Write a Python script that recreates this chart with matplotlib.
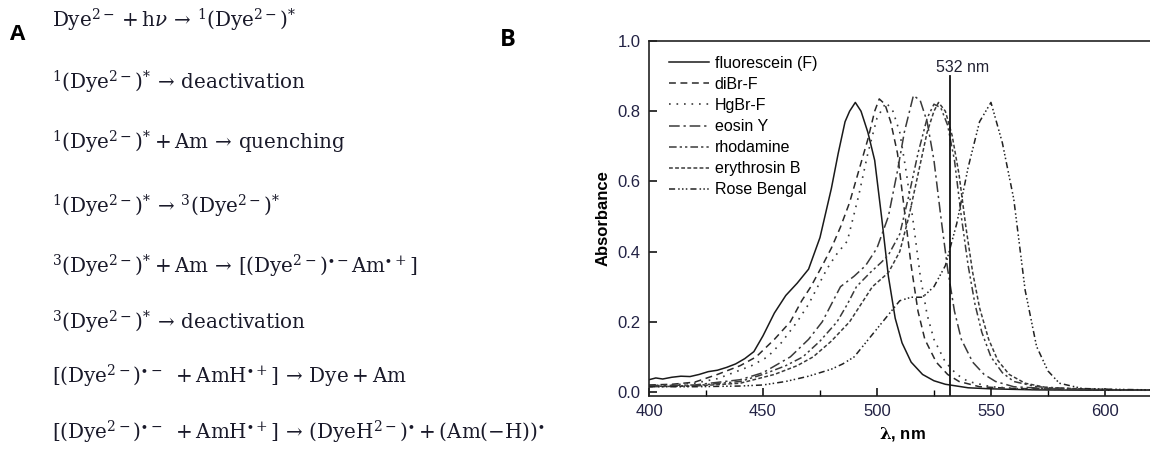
import matplotlib
matplotlib.use("Agg")
import matplotlib.pyplot as plt
from matplotlib.ticker import MultipleLocator

plt.rcParams['font.family'] = ['Liberation Sans', 'DejaVu Sans']
plt.rcParams['mathtext.fontset'] = 'dejavuserif'

# ---------------- data ----------------
fluor_wl = [400, 403, 406, 410, 414, 418, 422, 426, 430, 434, 438, 442, 446, 450, 455, 460, 465, 470,
            475, 480, 483, 486, 488, 490.5, 493, 496, 499, 502, 505, 508, 511, 515, 520, 525, 530, 540,
            550, 570, 600, 620]
fluor_A = [0.035, 0.04, 0.037, 0.042, 0.045, 0.044, 0.05, 0.058, 0.062, 0.07, 0.08, 0.095, 0.115, 0.16,
           0.225, 0.275, 0.31, 0.35, 0.44, 0.58, 0.68, 0.77, 0.80, 0.825, 0.80, 0.74, 0.66, 0.50, 0.33,
           0.21, 0.14, 0.085, 0.05, 0.032, 0.022, 0.012, 0.009, 0.006, 0.005, 0.005]

dibr_wl = [400, 410, 420, 430, 440, 447, 455, 462, 467, 471, 476, 480, 484, 488, 492, 496, 499, 501,
           503.5, 506, 509, 512, 515, 518, 521, 526, 531, 536, 545, 560, 620]
dibr_A = [0.02, 0.022, 0.028, 0.05, 0.075, 0.1, 0.15, 0.2, 0.26, 0.3, 0.36, 0.41, 0.47, 0.54, 0.63,
          0.72, 0.80, 0.835, 0.82, 0.77, 0.68, 0.52, 0.36, 0.23, 0.15, 0.085, 0.05, 0.03, 0.015, 0.01, 0.005]

hgbr_wl = [400, 410, 420, 430, 435, 445, 452, 458, 465, 470, 474, 478, 482, 487, 492, 496, 500, 504,
           507, 510, 513, 516, 519, 522, 525, 530, 535, 540, 550, 565, 620]
hgbr_A = [0.018, 0.02, 0.025, 0.038, 0.05, 0.075, 0.1, 0.14, 0.2, 0.25, 0.3, 0.35, 0.39, 0.43, 0.56,
          0.68, 0.78, 0.825, 0.80, 0.74, 0.62, 0.48, 0.33, 0.22, 0.15, 0.085, 0.05, 0.03, 0.015, 0.008, 0.005]

eosin_wl = [400, 420, 440, 450, 462, 470, 476, 484, 490, 495, 500, 505, 509, 512, 516, 519, 522, 525,
            528, 531, 534, 537, 542, 547, 552, 560, 580, 620]
eosin_A = [0.018, 0.02, 0.035, 0.055, 0.1, 0.15, 0.2, 0.3, 0.33, 0.36, 0.41, 0.5, 0.63, 0.74, 0.845,
           0.83, 0.77, 0.66, 0.5, 0.35, 0.23, 0.15, 0.085, 0.05, 0.03, 0.015, 0.008, 0.005]

rhod_wl = [400, 420, 440, 450, 460, 467.5, 475, 482.5, 487, 491, 497, 502, 505, 510, 514, 518, 522, 525,
           528, 531, 534, 537, 540, 543, 546, 550, 555, 560, 570, 590, 620]
rhod_A = [0.016, 0.018, 0.03, 0.05, 0.075, 0.1, 0.145, 0.2, 0.25, 0.3, 0.34, 0.37, 0.39, 0.45, 0.56,
          0.68, 0.78, 0.82, 0.81, 0.76, 0.66, 0.5, 0.36, 0.25, 0.17, 0.1, 0.055, 0.03, 0.015, 0.008, 0.005]

eryth_wl = [400, 420, 440, 455, 465, 472, 480, 488, 493, 498, 505, 510, 514, 518, 522, 525, 527, 530,
            533, 536, 539, 542, 545, 549, 553, 558, 565, 575, 600, 620]
eryth_A = [0.015, 0.017, 0.025, 0.05, 0.075, 0.1, 0.145, 0.2, 0.25, 0.3, 0.34, 0.4, 0.5, 0.62, 0.74,
           0.8, 0.825, 0.8, 0.73, 0.62, 0.47, 0.34, 0.24, 0.15, 0.09, 0.05, 0.025, 0.012, 0.007, 0.005]

rb_wl = [400, 420, 440, 450, 460, 470, 475, 480, 485, 490, 495, 500, 505, 510, 515, 520, 525, 530, 535,
         540, 545, 550, 555, 560, 565, 570, 575, 580, 590, 600, 620]
rb_A = [0.015, 0.015, 0.017, 0.02, 0.03, 0.045, 0.055, 0.065, 0.08, 0.1, 0.14, 0.18, 0.22, 0.26, 0.27,
        0.27, 0.3, 0.36, 0.48, 0.64, 0.77, 0.825, 0.71, 0.55, 0.29, 0.13, 0.06, 0.025, 0.01, 0.008, 0.006]

series_names = ['fluorescein (F)', 'diBr-F', 'HgBr-F', 'eosin Y', 'rhodamine', 'erythrosin B', 'Rose Bengal']
laser_nm = 532
xticks = [400, 450, 500, 550, 600]
yticks = [0.0, 0.2, 0.4, 0.6, 0.8, 1.0]

equations = [
    r'$\mathrm{Dye}^{2-}+\mathrm{h}\nu\,\rightarrow\,{}^{1}(\mathrm{Dye}^{2-})^{*}$',
    r'${}^{1}(\mathrm{Dye}^{2-})^{*}\,\rightarrow\,\mathrm{deactivation}$',
    r'${}^{1}(\mathrm{Dye}^{2-})^{*}+\mathrm{Am}\,\rightarrow\,\mathrm{quenching}$',
    r'${}^{1}(\mathrm{Dye}^{2-})^{*}\,\rightarrow\,{}^{3}(\mathrm{Dye}^{2-})^{*}$',
    r'${}^{3}(\mathrm{Dye}^{2-})^{*}+\mathrm{Am}\,\rightarrow\,[(\mathrm{Dye}^{2-})^{\bullet-}\mathrm{Am}^{\bullet+}]$',
    r'${}^{3}(\mathrm{Dye}^{2-})^{*}\,\rightarrow\,\mathrm{deactivation}$',
    r'$[(\mathrm{Dye}^{2-})^{\bullet-}\ +\mathrm{AmH}^{\bullet+}]\,\rightarrow\,\mathrm{Dye}+\mathrm{Am}$',
    r'$[(\mathrm{Dye}^{2-})^{\bullet-}\ +\mathrm{AmH}^{\bullet+}]\,\rightarrow\,(\mathrm{DyeH}^{2-})^{\bullet}+(\mathrm{Am}(-\mathrm{H}))^{\bullet}$',
]
eq_baselines_px = [27, 90, 150, 213, 273, 330, 383, 440]

# ---------------- figure ----------------
W, H = 1150, 455
fig = plt.figure(figsize=(W / 100, H / 100), dpi=100)

# panel A: reaction scheme
fig.text(10 / W, 1 - 35 / H, 'A', fontsize=16, fontweight='bold', va='center', ha='left',
         family=['Open Sans', 'DejaVu Sans'])
for eq, b in zip(equations, eq_baselines_px):
    fig.text(52 / W, 1 - b / H, eq, fontsize=14.3, va='baseline', ha='left', color='#1a1a2a')

# panel B label
fig.text(500 / W, 1 - 40 / H, 'B', fontsize=17, fontweight='bold', va='center', ha='left',
         family=['Open Sans', 'DejaVu Sans'])

ax = fig.add_axes([649 / W, 1 - 396 / H, 507 / W, 355 / H])

styles = [
    dict(ls='-', color='#1a1a1a', lw=1.1),
    dict(ls=(0, (4.5, 3)), color='#2a2a2a', lw=1.1),
    dict(ls=(0, (1, 3.5)), color='#3a3a3a', lw=1.2),
    dict(ls=(0, (7, 2.5, 1.5, 2.5)), color='#3a3a3a', lw=1.1),
    dict(ls=(0, (5, 2, 1.5, 2, 1.5, 2)), color='#3a3a3a', lw=1.1),
    dict(ls=(0, (2.5, 1.5)), color='#3a3a3a', lw=1.1),
    dict(ls=(0, (4, 2, 1, 1.5, 1, 1.5, 1, 2)), color='#222222', lw=1.1),
]
data = [(fluor_wl, fluor_A), (dibr_wl, dibr_A), (hgbr_wl, hgbr_A), (eosin_wl, eosin_A),
        (rhod_wl, rhod_A), (eryth_wl, eryth_A), (rb_wl, rb_A)]
for (x, y), name, st in zip(data, series_names, styles):
    ax.plot(x, y, label=name, **st)

ax.axvline(laser_nm, ymin=0, ymax=(0.90 + 0.0114) / 1.0114, color='#111111', lw=1.3)
ax.text(laser_nm + 5.5, 0.925, f'{laser_nm} nm', fontsize=11.5, ha='center', va='center', color='#222233')

ax.set_xlim(400, 622.4)
ax.set_ylim(-0.0114, 1.0)
ax.set_xticks(xticks)
ax.set_yticks(yticks)
ax.set_yticklabels([f'{v:.1f}' for v in yticks])
ax.xaxis.set_minor_locator(MultipleLocator(25))
ax.tick_params(which='major', direction='in', length=6, width=1.1, labelsize=12, labelcolor='#222244', pad=6)
ax.tick_params(which='minor', direction='in', length=4, width=1.0)
ax.tick_params(axis='y', which='minor', left=False)
for s in ax.spines.values():
    s.set_linewidth(1.2)
    s.set_color('#222222')

ax.set_xlabel(r'$\mathbf{\lambda}$, nm', fontsize=12, fontweight='bold', labelpad=4)
ax.set_ylabel('Absorbance', fontsize=12, fontweight='bold', labelpad=5)

ax.legend(loc='upper left', bbox_to_anchor=(0.04, 0.958), frameon=False, fontsize=11.5,
          handlelength=2.5, handletextpad=0.35, labelspacing=0.38, borderpad=0, borderaxespad=0)

fig.savefig('out.png', dpi=100)
